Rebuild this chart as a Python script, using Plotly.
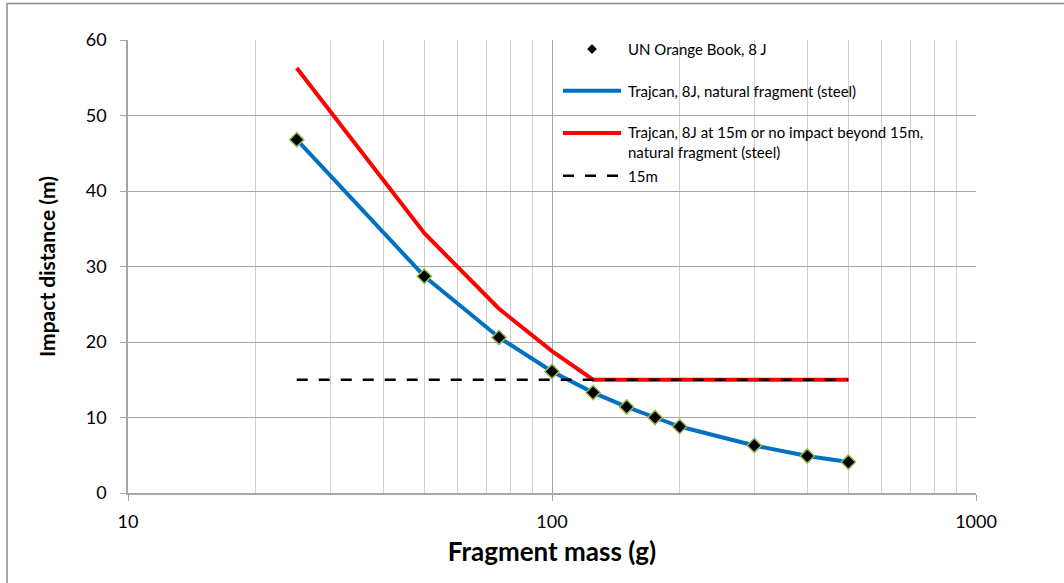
import plotly.graph_objects as go

# Fragment masses (g)
mass_orange = [25, 50, 75, 100, 125, 150, 175, 200, 300, 400, 500]
dist_orange = [46.8, 28.7, 20.6, 16.1, 13.3, 11.4, 10.0, 8.8, 6.3, 4.9, 4.1]

mass_trajcan = [25, 50, 75, 100, 125, 150, 175, 200, 300, 400, 500]
dist_trajcan = [46.8, 28.7, 20.6, 16.1, 13.3, 11.4, 10.0, 8.8, 6.3, 4.9, 4.1]

mass_limit = [25, 50, 75, 100, 125, 150, 175, 200, 300, 400, 500]
dist_limit = [56.3, 34.4, 24.4, 18.8, 15.0, 15.0, 15.0, 15.0, 15.0, 15.0, 15.0]

mass_15m = [25, 500]
dist_15m = [15, 15]

x_tick_vals = [10, 100, 1000]
x_tick_text = ["10", "100", "1000"]
x_minor_vals = [20, 30, 40, 50, 60, 70, 80, 90, 200, 300, 400, 500, 600, 700, 800, 900]

legend_labels = [
    "UN Orange Book, 8 J",
    "Trajcan, 8J, natural fragment (steel)",
    "Trajcan, 8J at 15m or no impact beyond 15m,<br>natural fragment (steel)",
    "15m",
]

FONT = "Lato"
BLUE = "#0070C0"
RED = "#FF0000"
OLIVE = "#98B954"
GRID = "#a6a6a6"
MINOR_GRID = "#d0d0d0"

fig = go.Figure()

fig.add_trace(go.Scatter(x=mass_limit, y=dist_limit, mode="lines",
                         line=dict(color=RED, width=4), name=legend_labels[2],
                         showlegend=False))
fig.add_trace(go.Scatter(x=mass_trajcan, y=dist_trajcan, mode="lines",
                         line=dict(color=BLUE, width=4), name=legend_labels[1],
                         showlegend=False))
fig.add_trace(go.Scatter(x=mass_15m, y=dist_15m, mode="lines",
                         line=dict(color="black", width=2.5, dash="11px,11px"),
                         name="15m", showlegend=False))
fig.add_trace(go.Scatter(x=mass_orange, y=dist_orange, mode="markers",
                         marker=dict(symbol="diamond", size=11, color="black",
                                     line=dict(color=OLIVE, width=1.5)),
                         name=legend_labels[0], showlegend=False))

# Pixel -> paper helpers for the legend panel
L, R, T, B = 128, 88, 40, 90
W, H = 1064, 583
PW, PH = W - L - R, H - T - B


def px(x):
    return (x - L) / PW


def py(y):
    return (H - B - y) / PH


shapes = [
    # white legend panel over the grid
    dict(type="rect", xref="paper", yref="paper", x0=px(531), x1=px(974),
         y0=py(201), y1=py(37), fillcolor="white", line=dict(width=0),
         layer="between"),
    # outer chart frame (only its left and top edges fall inside the page)
    dict(type="rect", xref="paper", yref="paper", x0=px(7), x1=px(1120),
         y0=py(640), y1=py(3.5), fillcolor="rgba(0,0,0,0)",
         line=dict(color="#8c8c8c", width=1.5), layer="above"),
    # legend glyphs
    dict(type="line", xref="paper", yref="paper", x0=px(563), x1=px(621),
         y0=py(90.7), y1=py(90.7), line=dict(color=BLUE, width=4)),
    dict(type="line", xref="paper", yref="paper", x0=px(563), x1=px(621),
         y0=py(133), y1=py(133), line=dict(color=RED, width=4)),
    dict(type="line", xref="paper", yref="paper", x0=px(563), x1=px(621),
         y0=py(175.7), y1=py(175.7),
         line=dict(color="black", width=2.5, dash="11px,11px")),
    dict(type="path", xref="paper", yref="paper", xsizemode="pixel",
         ysizemode="pixel", xanchor=px(592), yanchor=py(49),
         path="M0,5 L5,0 L0,-5 L-5,0 Z", fillcolor="black",
         line=dict(color=OLIVE, width=1)),
]

ann_font = dict(family=FONT, size=15, color="black")
annotations = [
    dict(xref="paper", yref="paper", x=px(626), y=py(49), text=legend_labels[0],
         showarrow=False, xanchor="left", yanchor="middle", font=ann_font),
    dict(xref="paper", yref="paper", x=px(626), y=py(90.7), text=legend_labels[1],
         showarrow=False, xanchor="left", yanchor="middle", font=ann_font),
    dict(xref="paper", yref="paper", x=px(626), y=py(121), text=legend_labels[2],
         showarrow=False, xanchor="left", yanchor="top", align="left",
         font=dict(family=FONT, size=15, color="black"), height=46,
         valign="top"),
    dict(xref="paper", yref="paper", x=px(626), y=py(175.7), text=legend_labels[3],
         showarrow=False, xanchor="left", yanchor="middle", font=ann_font),
]

fig.update_layout(
    width=W, height=H,
    margin=dict(l=L, r=R, t=T, b=B),
    paper_bgcolor="white", plot_bgcolor="white",
    font=dict(family=FONT, size=18, color="black"),
    showlegend=False,
    shapes=shapes,
    annotations=annotations,
)

fig.update_xaxes(
    type="log", range=[1, 3],
    tickvals=x_tick_vals, ticktext=x_tick_text,
    ticks="outside", ticklen=6, tickcolor=GRID, ticklabelstandoff=6,
    showgrid=True, gridcolor=GRID, gridwidth=1,
    minor=dict(tickvals=x_minor_vals, showgrid=True, gridcolor=MINOR_GRID,
               gridwidth=1, ticks=""),
    showline=True, linecolor=GRID, linewidth=1.5,
    title=dict(text="<b>Fragment mass (g)</b>", font=dict(family=FONT, size=26),
               standoff=11),
    tickfont=dict(family=FONT, size=18),
)
fig.update_yaxes(
    range=[0, 60], dtick=10,
    ticks="outside", ticklen=6, tickcolor=GRID, ticklabelstandoff=10,
    showgrid=True, gridcolor=GRID, gridwidth=1, zeroline=False,
    showline=True, linecolor=GRID, linewidth=1.5,
    title=dict(text="<b>Impact distance (m)</b>", font=dict(family=FONT, size=21),
               standoff=24),
    tickfont=dict(family=FONT, size=18),
)

fig.write_html("out.html")
